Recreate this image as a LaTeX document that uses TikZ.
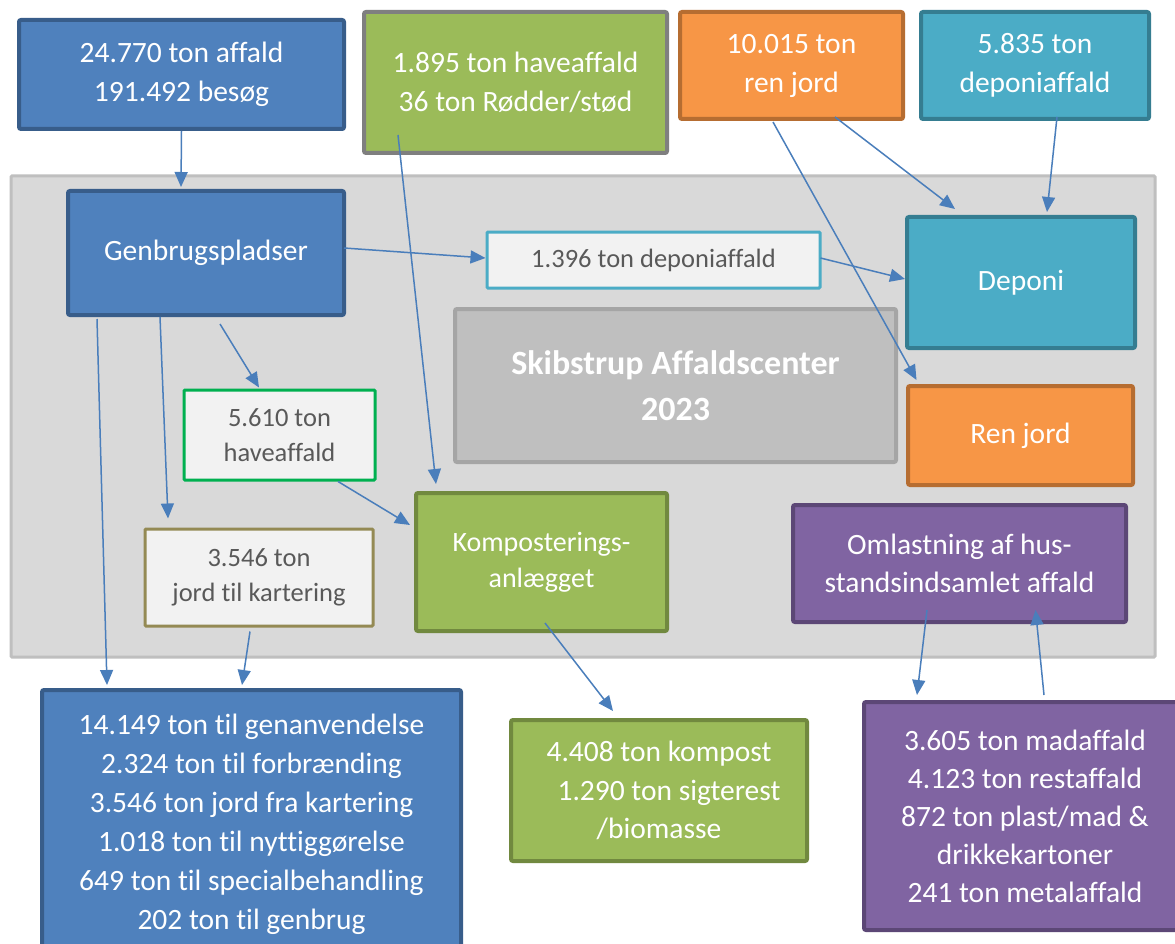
\documentclass[tikz,border=0pt]{standalone}
\usepackage{fontspec}
\setmainfont{Carlito}[Ligatures=NoCommon]
\usetikzlibrary{arrows.meta,calc}
\definecolor{blueF}{HTML}{4F81BD}\definecolor{blueD}{HTML}{385D8A}
\definecolor{greenF}{HTML}{9BBB59}\definecolor{greenD}{HTML}{71893F}
\definecolor{grayB}{HTML}{7F7F7F}
\definecolor{orangeF}{HTML}{F79646}\definecolor{orangeD}{HTML}{B66D31}
\definecolor{tealF}{HTML}{4BACC6}\definecolor{tealD}{HTML}{357D91}
\definecolor{purpleF}{HTML}{8064A2}\definecolor{purpleD}{HTML}{5C4776}
\definecolor{lightF}{HTML}{F2F2F2}
\definecolor{contF}{HTML}{D9D9D9}\definecolor{contD}{HTML}{BFBFBF}
\definecolor{titleF}{HTML}{BFBFBF}\definecolor{titleD}{HTML}{A5A5A5}
\definecolor{arrowC}{HTML}{4A7EBB}
\definecolor{textG}{HTML}{595959}
\definecolor{greenB}{HTML}{00B050}
\definecolor{oliveB}{HTML}{948A54}
\newcommand\fBig{\fontsize{29.5}{39}\selectfont}
\newcommand\fMid{\fontsize{28}{36}\selectfont}
\newcommand\fSmall{\fontsize{26.5}{35}\selectfont}
\newcommand\fTitle{\fontsize{34}{46}\selectfont\bfseries}
\begin{document}
\begin{tikzpicture}[x=1pt,y=-1pt,
  box/.style={rounded corners=2pt, line width=4pt, align=center, inner sep=0pt, text=white, font=\fBig, yshift=-2pt},
  lbox/.style={rounded corners=1pt, line width=3pt, align=center, inner sep=0pt, fill=lightF, text=textG, font=\fSmall, yshift=-1pt},
  flow/.style={draw=arrowC, line width=1.5pt, -{Triangle[length=15pt,width=13pt]}}]
\useasboundingbox (0,0) rectangle (1175,944);
\fill[white] (0,0) rectangle (1175,944);
% container
\node[draw=contD, fill=contF, line width=3pt, rounded corners=1pt, minimum width=1144pt, minimum height=481pt, inner sep=0pt] (cont) at (583,416.5) {};
% top boxes
\node[box, fill=blueF, draw=blueD, minimum width=325pt, minimum height=109pt] (A) at (181.5,72.5) {24.770 ton affald\\191.492 besøg};
\node[box, fill=greenF, draw=grayB, minimum width=303pt, minimum height=141pt] (B) at (515.5,80.5) {1.895 ton haveaffald\\36 ton Rødder/stød};
\node[box, fill=orangeF, draw=orangeD, minimum width=223pt, minimum height=107pt] (C) at (791.5,63.5) {10.015 ton\\ren jord};
\node[box, fill=tealF, draw=tealD, minimum width=228pt, minimum height=107pt] (D) at (1035,63.5) {5.835 ton\\deponiaffald};
% inside
\node[box, fill=blueF, draw=blueD, minimum width=276pt, minimum height=124pt] (G) at (206,251) {Genbrugspladser};
\node[lbox, draw=tealF, minimum width=333pt, minimum height=56pt] (P) at (653.5,259) {1.396 ton deponiaffald};
\node[box, fill=tealF, draw=tealD, minimum width=228pt, minimum height=131pt] (Dep) at (1021,280.5) {Deponi};
\node[box, fill=titleF, draw=titleD, minimum width=441pt, minimum height=153pt, font=\fTitle] (T) at (675.5,383.5) {Skibstrup Affaldscenter\\2023};
\node[box, fill=orangeF, draw=orangeD, minimum width=225pt, minimum height=99pt] (RJ) at (1020.5,433.5) {Ren jord};
\node[lbox, draw=greenB, minimum width=191pt, minimum height=90pt] (H) at (279.5,434) {5.610 ton\\haveaffald};
\node[box, fill=greenF, draw=greenD, minimum width=251pt, minimum height=138pt, font=\fMid] (K) at (541.5,560) {Komposterings-\\anlægget};
\node[lbox, draw=oliveB, minimum width=228pt, minimum height=97pt] (J) at (259,576.5) {3.546 ton\\jord til kartering};
\node[box, fill=purpleF, draw=purpleD, minimum width=333pt, minimum height=117pt, font=\fontsize{29.5}{38}\selectfont] (O) at (959.5,561.5) {Omlastning af hus-\\standsindsamlet affald};
% bottom
\node[box, fill=blueF, draw=blueD, minimum width=419pt, minimum height=268pt] (BB) at (251.5,822) {14.149 ton til genanvendelse\\2.324 ton til forbrænding\\3.546 ton jord fra kartering\\1.018 ton til nyttiggørelse\\649 ton til specialbehandling\\202 ton til genbrug};
\node[box, fill=greenF, draw=greenD, minimum width=296pt, minimum height=141pt, font=\fontsize{29.5}{38.5}\selectfont] (KB) at (659,788.5) {4.408 ton kompost\\\hspace*{20pt}1.290 ton sigterest\\/biomasse};
\node[box, fill=purpleF, draw=purpleD, minimum width=322pt, minimum height=228pt, font=\fontsize{29.5}{38}\selectfont] (PB) at (1025,814) {3.605 ton madaffald\\4.123 ton restaffald\\872 ton plast/mad \&\\drikkekartoner\\241 ton metalaffald};
% arrows
\draw[flow] (A.south) -- ($(G.north)+(-25,-2)$);
\draw[flow] ($(B.south)+(-117.5,-20)$) -- ($(K.north)+(-105.5,-7)$);
\draw[flow] ($(C.south)+(-18.5,1)$) -- ($(RJ.north)+(-104,-4)$);
\draw[flow] ($(C.south)+(43.5,-4)$) -- ($(Dep.north)+(-66,-6)$);
\draw[flow] ($(D.south)+(22,-4)$) -- ($(Dep.north)+(26,-3)$);
\draw[flow] ($(G.east)+(-2,-5)$) -- ($(P.west)+(0,-2)$);
\draw[flow] ($(P.east)+(-1,-2)$) -- ($(Dep.west)+(0,-3.5)$);
\draw[flow] ($(G.south)+(-109,2)$) -- ($(BB.north)+(-144.5,-3)$);
\draw[flow] ($(G.south)+(-46,0)$) -- ($(J.north)+(-91,-9)$);
\draw[flow] ($(G.south)+(14,7)$) -- ($(H.north)+(-20.5,-1)$);
\draw[flow] ($(H.south)+(58.5,0)$) -- ($(K.west)+(-4,-37)$);
\draw[flow] ($(J.south)+(-9,4)$) -- ($(BB.north)+(-9.5,-3)$);
\draw[flow] ($(K.south)+(3.5,-10)$) -- ($(KB.north)+(-46,-7)$);
\draw[flow] ($(O.south)+(-32.5,-14)$) -- ($(PB.north)+(-108,-5)$);
\draw[flow] ($(PB.north)+(19,-5)$) -- ($(O.south)+(76,-14)$);
\end{tikzpicture}
\end{document}
